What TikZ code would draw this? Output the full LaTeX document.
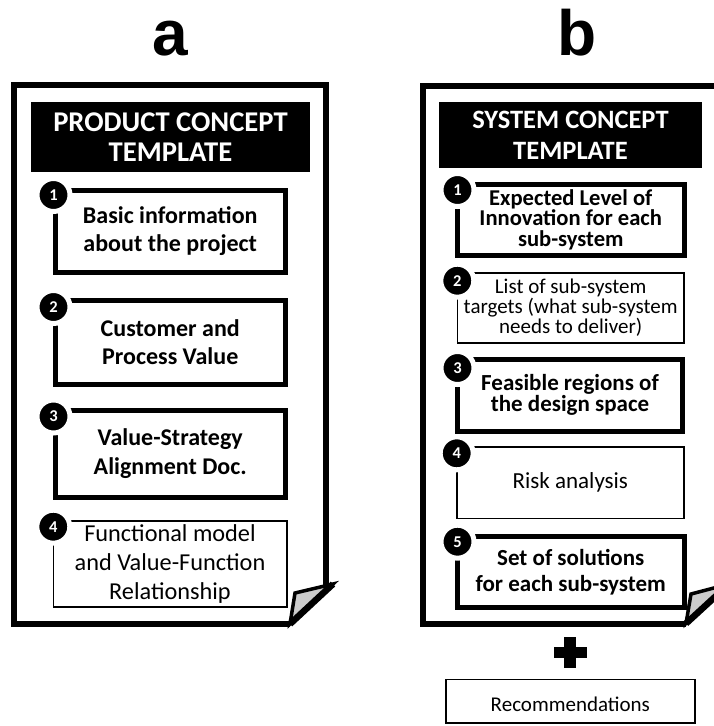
\documentclass[tikz,border=0pt]{standalone}
\usepackage{fontspec}
\setmainfont{Carlito}
\newfontfamily\panelfont{Liberation Sans}
\usetikzlibrary{positioning}

\tikzset{
  frameline/.style={line width=6pt, line join=miter},
  flap/.style={fill=black!20, draw=black, line width=3.5pt, line join=miter},
  flapedge/.style={line width=6.5pt, line cap=butt},
  thickbox/.style={draw, line width=5pt, fill=white, inner sep=0pt, outer sep=0pt, align=center},
  thinbox/.style={draw, line width=1.6pt, fill=white, inner sep=0pt, outer sep=0pt, align=center},
  titlebar/.style={fill=black, text=white, inner sep=0pt, outer sep=0pt, align=center},
  numdot/.style={circle, fill=black, draw=white, line width=5pt, minimum size=33pt,
    inner sep=0pt, text=white, font=\bfseries\fontsize{16.5}{16.5}\selectfont},
  panelname/.style={anchor=base, font=\panelfont\bfseries\fontsize{64}{64}\selectfont},
  boldA/.style={font=\bfseries\fontsize{24}{28.5}\selectfont},
  plainA/.style={font=\fontsize{24.3}{29}\selectfont},
}

\begin{document}
\begin{tikzpicture}[x=1pt, y=-1pt]
  \useasboundingbox (0,0) rectangle (714,726);
  \fill[white] (0,0) rectangle (714,726);
  \clip (0,0) rectangle (714,726);

  % ---------------- panel a ----------------
  \node[panelname] (labA) at (170,55) {a};

  \draw[frameline] (290,624) -- (14,624) -- (14,85) -- (326,85) -- (326,588);
  \filldraw[flap] (295,593) -- (333,584) -- (290,624) -- cycle;
  \draw[flapedge] (333,584) -- (290,624);

  \node[titlebar, minimum width=279pt, minimum height=70pt,
        font=\bfseries\fontsize{28.6}{30}\selectfont] (titA) at (170.5,136.7)
        {PRODUCT CONCEPT\\TEMPLATE};

  \node[thickbox, boldA, minimum width=230.5pt, minimum height=82pt] (a1) at (170.25,231)
        {Basic information\\about the project};
  \node[thickbox, boldA, minimum width=230.5pt, minimum height=84pt] (a2) at (170.25,342)
        {Customer and\\Process Value};
  \node[thickbox, boldA, minimum width=230.5pt, minimum height=87pt] (a3) at (170.25,453.5)
        {Value-Strategy\\Alignment Doc.};
  \node[thinbox, plainA, minimum width=233.4pt, minimum height=86pt] (a4) at (170,563.7)
        {Functional model\\and Value-Function\\Relationship};

  \node[numdot] (na1) at ([xshift=-1.5pt, yshift=-5pt]a1.north west) {1};
  \node[numdot] (na2) at ([xshift=-1.5pt, yshift=-7pt]a2.north west) {2};
  \node[numdot] (na3) at ([xshift=-1.5pt, yshift=-6.5pt]a3.north west) {3};
  \node[numdot] (na4) at ([xshift=0pt, yshift=-6pt]a4.north west) {4};

  % ---------------- panel b ----------------
  \node[panelname] (labB) at (577,55) {b};

  \draw[frameline] (686,623.5) -- (422.5,623.5) -- (422.5,85.5) -- (720,85.5) -- (720,588);
  \filldraw[flap] (691,594) -- (729,584) -- (686,623.5) -- cycle;
  \draw[flapedge] (729,584) -- (686,623.5);

  \node[titlebar, minimum width=263pt, minimum height=66.6pt,
        font=\bfseries\fontsize{26.5}{31}\selectfont] (titB) at (570.5,135)
        {SYSTEM CONCEPT\\TEMPLATE};

  \node[thickbox, minimum width=226.5pt, minimum height=71pt,
        font=\bfseries\fontsize{22.6}{20.5}\selectfont] (b1) at (570.75,219.5)
        {Expected Level of\\Innovation for each\\sub-system};
  \node[thinbox, minimum width=226.7pt, minimum height=70pt,
        font=\fontsize{21}{18.2}\selectfont] (b2) at (570.65,307.7)
        {List of sub-system\\targets (what sub-system\\needs to deliver)};
  \node[thickbox, minimum width=225pt, minimum height=72pt,
        font=\bfseries\fontsize{23}{21}\selectfont] (b3) at (570,395)
        {Feasible regions of\\the design space};
  \node[thinbox, minimum width=227.3pt, minimum height=71.6pt,
        font=\fontsize{23}{23}\selectfont] (b4) at (570.35,482.5)
        {Risk analysis};
  \node[thickbox, minimum width=226.5pt, minimum height=71.5pt,
        font=\bfseries\fontsize{23}{26}\selectfont] (b5) at (570.75,571.75)
        {Set of solutions\\for each sub-system};

  \node[numdot] (nb1) at ([yshift=-6pt]b1.north west) {1};
  \node[numdot] (nb2) at ([yshift=-8pt]b2.north west) {2};
  \node[numdot] (nb3) at ([yshift=-9pt]b3.north west) {3};
  \node[numdot] (nb4) at ([yshift=-6.6pt]b4.north west) {4};
  \node[numdot] (nb5) at ([yshift=-5.7pt]b5.north west) {5};

  % plus sign between the template and the recommendations
  \fill (554,646.7) rectangle (586.7,658.3);
  \fill (564.3,636.7) rectangle (576,668.3);

  \node[thinbox, minimum width=249.3pt, minimum height=43.7pt] (rec) at (570.35,701.15) {};
  \node[font=\fontsize{21}{21}\selectfont] (recText) at (570.35,704) {Recommendations};
\end{tikzpicture}
\end{document}
